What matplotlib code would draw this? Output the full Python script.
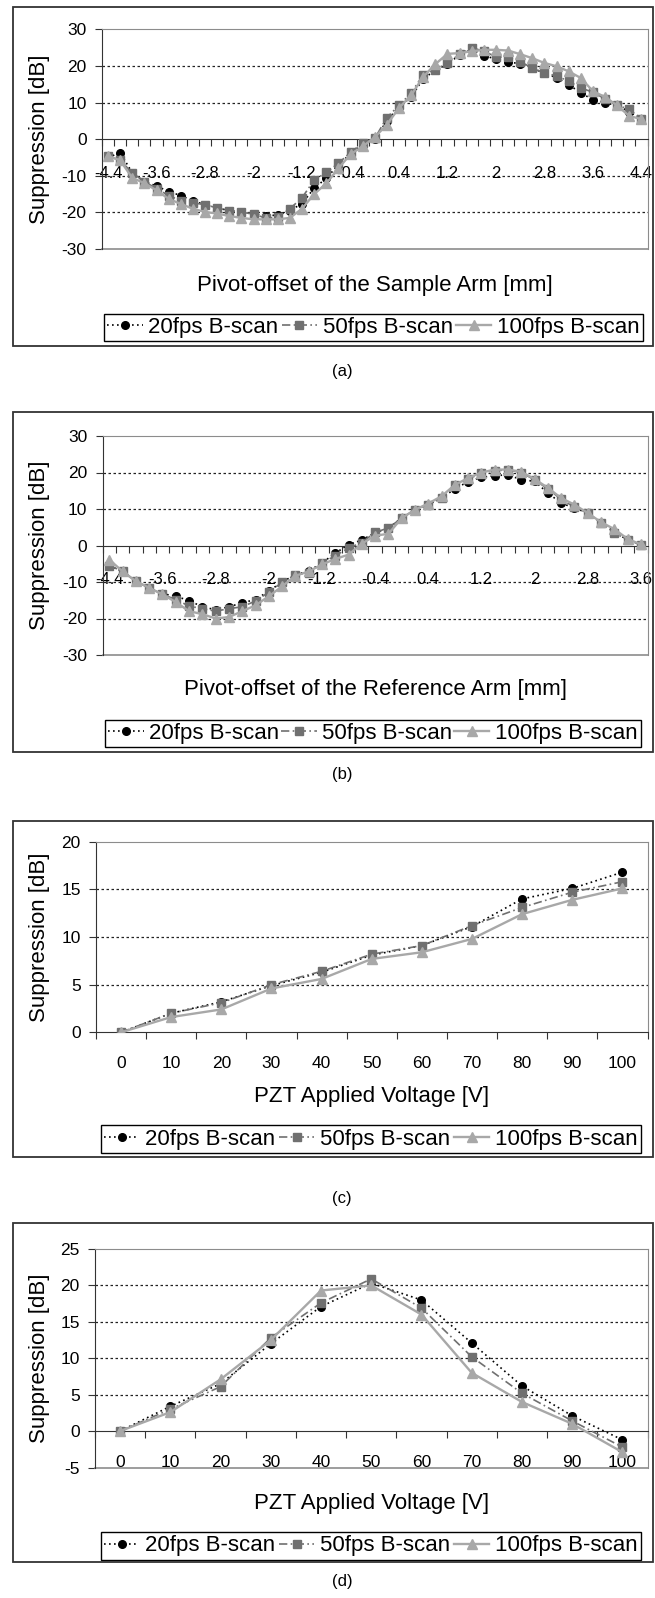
import numpy as np
import matplotlib
matplotlib.use('Agg')
import matplotlib.pyplot as plt
from matplotlib.patches import Rectangle

plt.rcParams['font.family'] = ['Liberation Sans', 'DejaVu Sans']

W, H = 655, 1598
series_names = ['20fps B-scan', '50fps B-scan', '100fps B-scan']

# (a) pivot-offset of the sample arm, mm
a_x = [-4.4, -4.2, -4.0, -3.8, -3.6, -3.4, -3.2, -3.0, -2.8, -2.6, -2.4, -2.2, -2.0,
       -1.8, -1.6, -1.4, -1.2, -1.0, -0.8, -0.6, -0.4, -0.2, 0.0, 0.2, 0.4, 0.6, 0.8,
       1.0, 1.2, 1.4, 1.6, 1.8, 2.0, 2.2, 2.4, 2.6, 2.8, 3.0, 3.2, 3.4, 3.6, 3.8, 4.0,
       4.2, 4.4]
a_20 = [-5, -3.7, -9.2, -11.6, -12.8, -14.3, -15.4, -16.8, -17.9, -18.8, -19.5, -20, -20.4,
        -21, -20.7, -19.5, -17.6, -13.4, -10.7, -7, -4, -1.5, 0, 5, 8.8, 11.5, 16.5,
        18.8, 20.5, 23, 24.5, 22.8, 21.9, 21.2, 20.5, 19.4, 18, 16.8, 14.9, 12.6, 10.8, 9.9, 9.2,
        7.5, 5.5]
a_50 = [-4.6, -5.8, -9.2, -11.6, -13.5, -15.4, -16.8, -17.4, -17.9, -18.8, -19.5, -20, -20.4,
        -21.6, -21.3, -19, -16, -11.2, -9.1, -6.6, -3.6, -1.1, 0.2, 5.9, 9.2, 12.6, 17.6,
        19, 20.8, 23.2, 25, 24, 22.5, 22.3, 21.2, 19.4, 18, 17.3, 15.8, 14, 12.8, 11, 9.3,
        8.1, 5.6]
a_100 = [-4.6, -5.8, -10.6, -12, -14, -16.3, -17.7, -19, -19.9, -20.3, -21, -21.5, -21.9,
         -21.9, -21.9, -21.5, -19, -15, -12.1, -8, -4.1, -2, 0.5, 4, 8.5, 12, 17,
         20.5, 23.3, 23.5, 24, 24.4, 24.4, 24.2, 23.2, 22.1, 20.8, 19.9, 18.5, 16.7, 13.1, 11.5, 9.2,
         6.3, 5.5]

# (b) pivot-offset of the reference arm, mm
b_x = [-4.4, -4.2, -4.0, -3.8, -3.6, -3.4, -3.2, -3.0, -2.8, -2.6, -2.4, -2.2, -2.0,
       -1.8, -1.6, -1.4, -1.2, -1.0, -0.8, -0.6, -0.4, -0.2, 0.0, 0.2, 0.4, 0.6, 0.8,
       1.0, 1.2, 1.4, 1.6, 1.8, 2.0, 2.2, 2.4, 2.6, 2.8, 3.0, 3.2, 3.4, 3.6]
b_20 = [-5.5, -7.1, -9.8, -11.6, -13.2, -13.9, -15.1, -16.8, -17.6, -16.8, -15.7, -14.8, -12.5,
        -10, -8, -7, -4.8, -2.1, 0.2, 1.5, 3.5, 4.8, 7.5, 9.8, 11.2, 13, 15.5,
        17.5, 18.7, 19.1, 19.4, 18, 17.6, 14.4, 11.6, 10.3, 8.9, 6.2, 3.8, 1.5, 0.2]
b_50 = [-5.5, -7.1, -9.8, -11.6, -13.4, -14.8, -16.6, -17.3, -18, -17.3, -16.8, -15.2, -12.8,
        -10.1, -8, -7.6, -4.8, -2.8, -0.7, 0.8, 3.6, 4.8, 7.5, 9.8, 11.2, 13, 16.6,
        18.2, 19.8, 20.5, 20.7, 20, 18, 15.5, 12.7, 10.5, 8.9, 6.2, 3.5, 1.5, 0.2]
b_100 = [-3.9, -7.1, -9.8, -11.6, -13.4, -15.5, -18, -18.8, -20, -19.6, -18, -16.4, -13.9,
         -11.2, -8.3, -7.1, -5.2, -3.7, -2.5, 0.5, 2.7, 3.2, 7.5, 9.8, 11.5, 13.5, 16.6,
         18.5, 20, 20.8, 20.8, 20.2, 18.2, 15.8, 13, 11.2, 8.9, 6.4, 4.5, 1.8, 0.3]

# (c), (d) PZT applied voltage, V
v_x = [0, 10, 20, 30, 40, 50, 60, 70, 80, 90, 100]
c_20 = [0, 2, 3.2, 4.9, 6.3, 8.1, 9.1, 11.1, 14, 15.1, 16.8]
c_50 = [0, 2, 3.1, 5, 6.4, 8.2, 9.1, 11.2, 13.1, 14.7, 15.8]
c_100 = [0, 1.6, 2.4, 4.6, 5.6, 7.7, 8.4, 9.8, 12.4, 13.9, 15.1]
d_20 = [0, 3.4, 6.5, 12, 17.1, 20.3, 18, 12.1, 6.2, 2.1, -1.2]
d_50 = [0, 3, 6.1, 12.8, 17.6, 20.9, 16.9, 10.2, 5.2, 1.4, -2.2]
d_100 = [0, 2.6, 7.1, 12.5, 19.3, 20, 16, 8, 4, 1, -2.9]

styles = [
    dict(color='black', ls=(0, (1, 2)), lw=1.2, marker='o', ms=5.5),
    dict(color='#707070', ls=(0, (5, 2, 1, 2)), lw=1.2, marker='s', ms=6),
    dict(color='#a8a8a8', ls='-', lw=1.7, marker='^', ms=6.5),
]


def fx(x):
    return x / W


def fy(y):
    return 1 - y / H


fig = plt.figure(figsize=(W / 100, H / 100), dpi=100)


def panel(box, area, ylim, ystep, x, ys, label_every, xtick_size, xpad,
          xlabel, xlabel_y, legend_box, caption, caption_y):
    # outer frame of the panel
    fig.patches.append(Rectangle((fx(box[0]), fy(box[3])), (box[2] - box[0]) / W,
                                 (box[3] - box[1]) / H, transform=fig.transFigure,
                                 fill=False, edgecolor='#333333', lw=1.3))
    l, t, r, b = area
    ax = fig.add_axes([fx(l), fy(b), (r - l) / W, (b - t) / H])
    n = len(x)
    idx = np.arange(n)
    for yv, name, st in zip(ys, series_names, styles):
        ax.plot(idx, yv, label=name, color=st['color'], ls=st['ls'], lw=st['lw'],
                marker=st['marker'], ms=st['ms'], mec=st['color'], mfc=st['color'],
                zorder=3)
    ax.set_xlim(-0.5, n - 0.5)
    ax.set_ylim(*ylim)
    yt = np.arange(ylim[0], ylim[1] + 0.1, ystep)
    ax.set_yticks(yt)
    ax.set_yticklabels([f'{v:g}' for v in yt], fontsize=12.5)
    for v in yt:
        if v not in (ylim[0], ylim[1], 0):
            ax.axhline(v, color='#222222', ls=(0, (2, 2)), lw=0.9, zorder=1)
    for s in ['top', 'right']:
        ax.spines[s].set_color('#8c8c8c')
    ax.spines['left'].set_color('#333333')
    ax.spines['bottom'].set_color('#333333')
    ax.spines['bottom'].set_position(('data', 0))
    if ylim[0] < 0:
        ax.axhline(ylim[0], color='#8c8c8c', lw=1.2, clip_on=False)
    ax.set_xticks(np.arange(n + 1) - 0.5)
    ax.set_xticklabels([])
    lab_idx = idx[::label_every]
    ax.set_xticks(lab_idx, [f'{x[i]:g}' for i in lab_idx], minor=True)
    ax.tick_params(axis='x', which='major', direction='out', length=5, color='#333333')
    ax.tick_params(axis='x', which='minor', length=0, pad=xpad, labelsize=xtick_size)
    ax.tick_params(axis='y', direction='out', length=5, pad=6, color='#333333')
    fig.text(fx((l + r) / 2), fy(xlabel_y), xlabel, ha='center', va='center', fontsize=16)
    fig.text(fx(40), fy((t + b) / 2), 'Suppression [dB]', rotation=90,
             ha='center', va='center', fontsize=16)
    x0, y0, x1, y1 = legend_box
    leg = ax.legend(loc='center', bbox_to_anchor=(fx(x0), fy(y1), (x1 - x0) / W, (y1 - y0) / H),
                    bbox_transform=fig.transFigure, ncol=3, mode='expand', fontsize=16,
                    fancybox=False, edgecolor='black', framealpha=1, handlelength=1.6,
                    handletextpad=0.25, columnspacing=0.3, borderpad=0.15, borderaxespad=0)
    leg.get_frame().set_linewidth(1.0)
    fig.text(fx(342), fy(caption_y), caption, ha='center', va='center', fontsize=12)
    return ax


panel((12.6, 7, 653, 345.7), (102, 29.3, 647.5, 249), (-30, 30), 10, a_x,
      [a_20, a_50, a_100], 4, 12, 19.4,
      'Pivot-offset of the Sample Arm [mm]', 285, (104, 311.7, 643, 343.3), '(a)', 371.7)
panel((12.6, 411.7, 653, 751.7), (102.7, 436, 647.5, 655), (-30, 30), 10, b_x,
      [b_20, b_50, b_100], 4, 12, 19.4,
      'Pivot-offset of the Reference Arm [mm]', 690, (104.8, 716.7, 641, 750), '(b)', 775)
panel((12.6, 821, 653, 1157), (96, 841.7, 647.5, 1032.3), (0, 20), 5, v_x,
      [c_20, c_50, c_100], 1, 12.5, 17,
      'PZT Applied Voltage [V]', 1096.7, (100.6, 1123, 641, 1155), '(c)', 1198)
panel((12.6, 1223, 653, 1561.7), (95, 1249, 647.5, 1467.5), (-5, 25), 5, v_x,
      [d_20, d_50, d_100], 1, 12.5, 17,
      'PZT Applied Voltage [V]', 1503, (100.6, 1530, 641, 1561.7), '(d)', 1581.7)

fig.savefig('out.png', dpi=100)
